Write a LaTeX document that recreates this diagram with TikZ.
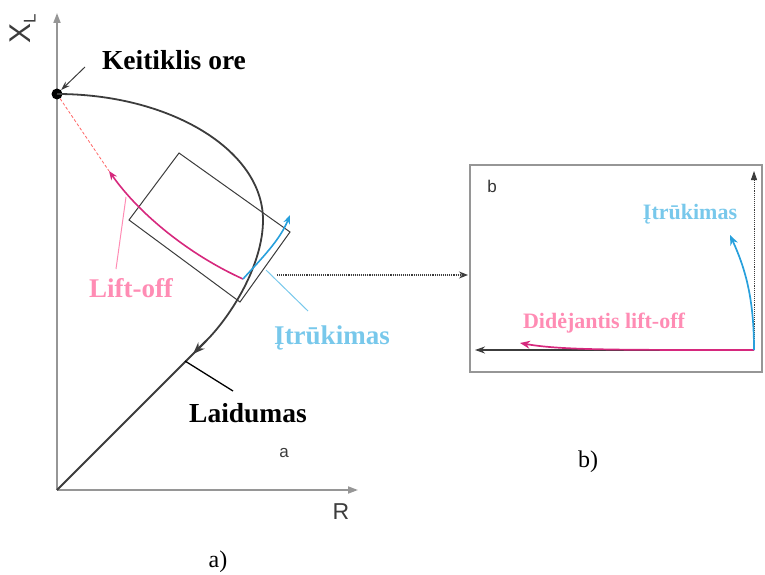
\documentclass[tikz,border=0pt]{standalone}
\usepackage{fontspec}
\setmainfont{Liberation Serif}
\setsansfont{Liberation Sans}
\usetikzlibrary{arrows.meta}
\definecolor{axisgray}{RGB}{150,150,150}
\definecolor{curvegray}{RGB}{60,60,60}
\definecolor{magc}{RGB}{214,40,125}
\definecolor{pinkc}{RGB}{255,140,180}
\definecolor{cyanc}{RGB}{40,160,220}
\definecolor{cyanl}{RGB}{120,200,235}
\tikzset{
  axis/.style={axisgray, line width=1.8pt, -{Triangle[length=10pt,width=7pt]}},
  mcurve/.style={curvegray, line width=1.8pt},
  boldlbl/.style={font=\fontsize{27.5}{29}\selectfont\bfseries, inner sep=0pt},
  midlbl/.style={font=\fontsize{27}{29}\selectfont\bfseries, inner sep=0pt},
  smalllbl/.style={font=\fontsize{22}{24}\selectfont\bfseries, inner sep=0pt},
  sflbl/.style={font=\sffamily, text=curvegray, inner sep=0pt},
  ptr/.style={line width=1pt},
}
\begin{document}
\begin{tikzpicture}[x=1pt,y=-1pt]
\useasboundingbox (0,0) rectangle (765,575);
% axes
\coordinate (O) at (57,490);
\coordinate (ytop) at (57,13);
\coordinate (xend) at (358,490);
\draw[axis] (O) -- (ytop);
\draw[axis] (O) -- (xend);
\node[sflbl, rotate=90, font=\sffamily\fontsize{30}{32}\selectfont] (xl) at (23,29) {X\raisebox{-0.3ex}{\fontsize{17}{18}\selectfont L}};
\node[sflbl, font=\sffamily\fontsize{23}{25}\selectfont] (rl) at (341,512) {R};
\node[sflbl, font=\sffamily\fontsize{17}{18}\selectfont] (al) at (284,453) {a};
% main curve
\node[circle, fill=black, inner sep=0pt, minimum size=11pt] (air) at (57,94) {};
\coordinate (rightpt) at (263,220);
\coordinate (cend) at (206,341);
\coordinate (carr) at (193,354);
\draw[mcurve] (air.center) .. controls (170,94) and (263,150) .. (rightpt)
  .. controls (263,265) and (231,316) .. (cend) -- (O);
\draw[mcurve, -{Stealth[length=12pt,width=9pt]}] (cend) -- (carr);
% Keitiklis ore
\node[boldlbl] (keit) at (174,60) {Keitiklis ore};
\coordinate (kp) at (85,67);
\draw[ptr, curvegray, -{Stealth[length=9pt,width=6pt]}] (kp) -- (air);
% Laidumas
\coordinate (lp1) at (185,361);
\coordinate (lp2) at (233,391);
\draw[ptr, black, line width=1.3pt] (lp1) -- (lp2);
\node[boldlbl] (laid) at (248,413) {Laidumas};
% rotated rectangle
\coordinate (r1) at (179,153);
\coordinate (r2) at (290,232);
\coordinate (r3) at (240,302);
\coordinate (r4) at (129,220);
\draw[curvegray, line width=1pt] (r1) -- (r2) -- (r3) -- (r4) -- cycle;
% lift-off
\coordinate (lt) at (109,171);
\coordinate (pstart) at (243,279);
\draw[red!60, densely dashed, line width=0.8pt] (air) -- (lt);
\draw[magc, line width=1.6pt, -{Stealth[length=9pt,width=7pt]}] (pstart) .. controls (190,255) and (140,215) .. (lt);
\coordinate (lf1) at (116,269);
\coordinate (lf2) at (126,197);
\draw[pinkc, ptr] (lf1) -- (lf2);
\node[midlbl, text=pinkc] (lift) at (131,288) {Lift-off};
% cracks
\coordinate (ct) at (290,215);
\draw[cyanc, line width=1.6pt, -{Stealth[length=9pt,width=7pt]}] (pstart) .. controls (262,258) and (280,240) .. (ct);
\coordinate (cp1) at (266,270);
\coordinate (cp2) at (308,311);
\draw[cyanl, ptr] (cp1) -- (cp2);
\node[midlbl, text=cyanl] (itr) at (332,338) {Įtrūkimas};
% connector to box b
\coordinate (cs) at (277,275);
\coordinate (ce) at (468,275);
\draw[curvegray, densely dotted, line width=1.1pt, -{Stealth[length=9pt,width=7pt]}] (cs) -- (ce);
% box b
\coordinate (b1) at (470,165);
\coordinate (b2) at (762,372);
\draw[axisgray, line width=1.4pt] (b1) rectangle (b2);
\node[sflbl, font=\sffamily\fontsize{17}{18}\selectfont, text=black!80] (bl) at (492,186) {b};
\coordinate (bo) at (754,350);
\coordinate (bup) at (754,171);
\coordinate (bleft) at (475,350);
\draw[curvegray, densely dotted, line width=0.9pt, -{Triangle[length=9pt,width=6pt]}] (bo) -- (bup);
\draw[curvegray, line width=1.3pt, -{Stealth[length=10pt,width=7pt]}] (bo) -- (bleft);
\coordinate (bm) at (520,343);
\draw[magc, line width=1.7pt, -{Stealth[length=10pt,width=8pt]}] (bo) .. controls (610,350) and (560,350) .. (bm);
\coordinate (bc) at (730,235);
\draw[cyanc, line width=1.7pt, -{Stealth[length=10pt,width=8pt]}] (bo) .. controls (754,300) and (746,270) .. (bc);
\node[smalllbl, text=cyanl] (itr2) at (690,214) {Įtrūkimas};
\node[smalllbl, text=pinkc] (did) at (604,323) {Didėjantis lift-off};
% captions
\node[font=\fontsize{24}{26}\selectfont, inner sep=0pt] (capb) at (588,462) {b)};
\node[font=\fontsize{24}{26}\selectfont, inner sep=0pt] (capa) at (218,562) {a)};
\end{tikzpicture}
\end{document}
